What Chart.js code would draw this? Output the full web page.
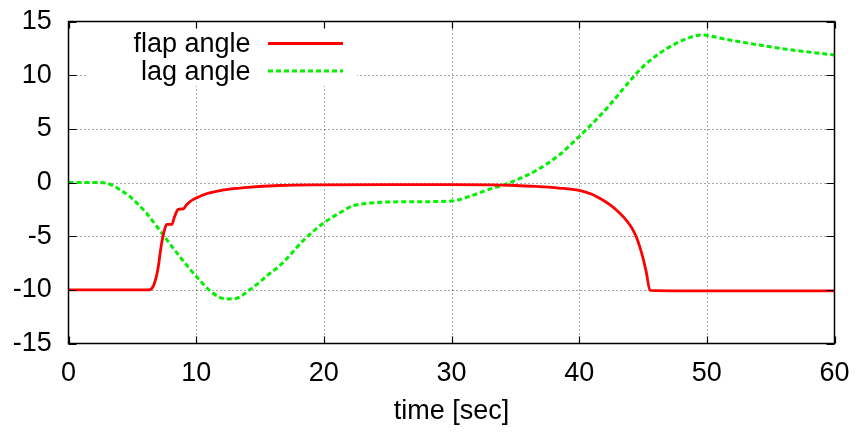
<!DOCTYPE html>
<html>
<head>
<meta charset="utf-8">
<script src="https://cdn.jsdelivr.net/npm/chart.js@4/dist/chart.umd.min.js"></script>
<style>
  html, body { margin: 0; padding: 0; background: #fff; }
  #plot { display: block; }
</style>
</head>
<body>
<canvas id="plot" width="856" height="432"></canvas>
<script>
// Rotor blade angles [deg] over time [sec]
const seriesNames = ['flap angle', 'lag angle'];

const flapTime  = [0, 6.35, 6.5, 6.7, 7.0, 7.25, 7.4, 7.6, 7.7, 8.1, 8.3, 8.6, 9.0, 9.2, 9.45, 9.75, 10, 10.8, 11.5, 12.6, 14, 16.5, 20, 25, 30, 33, 35, 36.6, 38.4, 40, 41, 41.5, 42, 42.5, 43, 43.5, 44, 44.25, 44.5, 44.75, 45.0, 45.25, 45.55, 50, 55, 60];
const flapAngle = [-10, -10, -9.9, -9.5, -8.1, -6.0, -5.0, -4.1, -3.9, -3.9, -3.2, -2.5, -2.45, -2.15, -1.85, -1.6, -1.45, -1.05, -0.85, -0.62, -0.45, -0.28, -0.22, -0.2, -0.2, -0.22, -0.28, -0.37, -0.52, -0.74, -1.1, -1.4, -1.75, -2.15, -2.65, -3.25, -4.0, -4.5, -5.15, -6.0, -7.05, -8.3, -10.05, -10.1, -10.1, -10.1];

const lagTime  = [0, 2.5, 3.0, 3.5, 4.0, 4.8, 5.3, 6.1, 7.4, 8.7, 10, 11.3, 12.35, 13.1, 14.2, 15.2, 15.74, 16.5, 17.05, 18.35, 19.9, 21, 22.3, 23.6, 26.2, 30, 31.4, 32.7, 34.3, 35.6, 36.6, 38.45, 40, 41.06, 42.4, 43.7, 45, 46.3, 47.6, 48.9, 49.55, 51.5, 54.1, 56.7, 60];
const lagAngle = [0, 0, -0.08, -0.3, -0.65, -1.3, -1.85, -2.85, -4.86, -6.88, -8.74, -10.3, -10.85, -10.8, -10.0, -9.05, -8.5, -7.8, -7.15, -5.45, -3.84, -3.0, -2.17, -1.92, -1.8, -1.73, -1.3, -0.74, -0.12, 0.5, 1.09, 2.58, 4.28, 5.52, 7.23, 9.09, 10.8, 12.04, 12.97, 13.6, 13.74, 13.34, 12.81, 12.34, 11.88];

const xTicks = [0, 10, 20, 30, 40, 50, 60];
const yTicks = [-15, -10, -5, 0, 5, 10, 15];
const xTitle = 'time [sec]';

const FONT = { family: "'Liberation Sans', Arial, Helvetica, sans-serif", size: 27 };
const RED = '#ff0000';
const GREEN = '#00f000';

const toPoints = (ts, vs) => ts.map((t, i) => ({ x: t, y: vs[i] }));

// fixed axis box sizes; labels may spill into the outer margin
const fixBox = size => s => {
  if (s.isHorizontal()) s.height = size; else s.width = size;
  s.paddingTop = s.paddingBottom = s.paddingLeft = s.paddingRight = 0;
};

// grid, opaque key area, border frame, inward ticks and the key
const gnuFrame = {
  id: 'gnuFrame',
  beforeDatasetsDraw(chart) {
    const { ctx, chartArea: a, scales: { x, y } } = chart;
    ctx.save();
    ctx.strokeStyle = 'rgba(0,0,0,0.7)';
    ctx.lineWidth = 1;
    ctx.setLineDash([1, 3]);
    xTicks.slice(1, -1).forEach(v => {
      const px = Math.round(x.getPixelForValue(v)) + 0.5;
      ctx.beginPath(); ctx.moveTo(px, a.top); ctx.lineTo(px, a.bottom); ctx.stroke();
    });
    yTicks.slice(1, -1).forEach(v => {
      const py = Math.round(y.getPixelForValue(v)) + 0.5;
      ctx.beginPath(); ctx.moveTo(a.left, py); ctx.lineTo(a.right, py); ctx.stroke();
    });
    ctx.setLineDash([]);
    // key area is opaque
    ctx.fillStyle = '#fff';
    ctx.fillRect(86, 29, 271, 57);
    ctx.restore();
  },
  afterDatasetsDraw(chart) {
    const { ctx, chartArea: a, scales: { x, y } } = chart;
    ctx.save();
    ctx.strokeStyle = '#000';
    ctx.lineWidth = 1.2;
    const tl = 7;
    xTicks.forEach(v => {
      const px = Math.round(x.getPixelForValue(v)) + 0.5;
      ctx.beginPath();
      ctx.moveTo(px, a.bottom); ctx.lineTo(px, a.bottom - tl);
      ctx.moveTo(px, a.top); ctx.lineTo(px, a.top + tl);
      ctx.stroke();
    });
    yTicks.forEach(v => {
      const py = Math.round(y.getPixelForValue(v)) + 0.5;
      ctx.beginPath();
      ctx.moveTo(a.left, py); ctx.lineTo(a.left + 8, py);
      ctx.moveTo(a.right, py); ctx.lineTo(a.right - 8, py);
      ctx.stroke();
    });
    ctx.lineWidth = 1.5;
    ctx.strokeRect(a.left, a.top, a.right - a.left, a.bottom - a.top);

    // key
    ctx.font = `${FONT.size}px ${FONT.family}`;
    ctx.fillStyle = '#000';
    ctx.textAlign = 'right';
    ctx.textBaseline = 'alphabetic';
    const rows = [
      { label: seriesNames[0], color: RED, dash: [], yText: 52, yLine: 43.5 },
      { label: seriesNames[1], color: GREEN, dash: [5, 3], yText: 80, yLine: 71 }
    ];
    rows.forEach(r => {
      ctx.fillText(r.label, 250.5, r.yText);
      ctx.beginPath();
      ctx.strokeStyle = r.color;
      ctx.lineWidth = 3;
      ctx.setLineDash(r.dash);
      ctx.moveTo(268, r.yLine); ctx.lineTo(343, r.yLine);
      ctx.stroke();
    });
    ctx.restore();
  }
};

new Chart(document.getElementById('plot'), {
  type: 'line',
  data: {
    datasets: [
      {
        label: seriesNames[0],
        data: toPoints(flapTime, flapAngle),
        borderColor: RED,
        borderWidth: 2.8,
        pointRadius: 0,
        fill: false,
        cubicInterpolationMode: 'monotone'
      },
      {
        label: seriesNames[1],
        data: toPoints(lagTime, lagAngle),
        borderColor: GREEN,
        borderWidth: 3,
        borderDash: [5, 3],
        pointRadius: 0,
        fill: false,
        cubicInterpolationMode: 'monotone'
      }
    ]
  },
  options: {
    responsive: false,
    devicePixelRatio: 1,
    animation: false,
    layout: { padding: { top: 21.5, right: 21.5, bottom: 0, left: 0 } },
    plugins: { legend: { display: false }, tooltip: { enabled: false } },
    scales: {
      x: {
        type: 'linear',
        min: xTicks[0],
        max: xTicks[xTicks.length - 1],
        grid: { display: false, drawTicks: false },
        border: { display: false },
        ticks: {
          stepSize: 10,
          autoSkip: false,
          maxRotation: 0,
          padding: 13.6,
          color: '#000',
          font: FONT
        },
        title: {
          display: true,
          text: xTitle,
          color: '#000',
          font: FONT,
          padding: { top: 0, bottom: 3.8 }
        },
        afterFit: fixBox(88.5)
      },
      y: {
        min: yTicks[0],
        max: yTicks[yTicks.length - 1],
        grid: { display: false, drawTicks: false },
        border: { display: false },
        ticks: {
          stepSize: 5,
          autoSkip: false,
          padding: 16.8,
          color: '#000',
          font: FONT
        },
        afterFit: fixBox(68.5)
      }
    }
  },
  plugins: [gnuFrame]
});
</script>
</body>
</html>
